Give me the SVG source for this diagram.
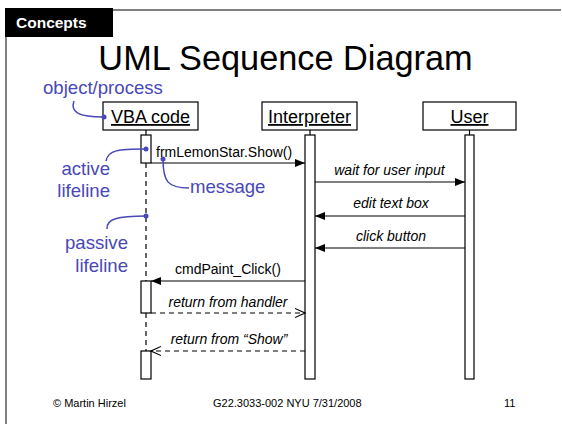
<svg xmlns="http://www.w3.org/2000/svg" width="562" height="424" viewBox="0 0 562 424">
<style>
text{font-family:"Liberation Sans",Arial,sans-serif}
.obj{fill:#fff;stroke:#000;stroke-width:1.2}
.objt{font-size:18px;text-decoration:underline;text-anchor:middle}
.act{fill:#fff;stroke:#000;stroke-width:1.2}
.life{stroke:#000;stroke-width:1.2;stroke-dasharray:5,4;fill:none}
.msg{stroke:#000;stroke-width:1.2;fill:none}
.ret{stroke:#000;stroke-width:1.2;fill:none;stroke-dasharray:5,4}
.ml{font-size:14px}
.it{font-style:italic;text-anchor:middle}
.note{fill:#4848b8;font-size:18.6px}
.nl{stroke:#4848b8;stroke-width:1.5;fill:none}
.dot{fill:#4848b8}
.foot{font-size:11px}
</style>
<defs>
<marker id="fill" markerWidth="10" markerHeight="8" refX="10" refY="4" orient="auto" markerUnits="userSpaceOnUse">
<path d="M0,0 L10,4 L0,8 z" fill="#000"/>
</marker>
<marker id="open" markerWidth="11" markerHeight="10" refX="10" refY="5" orient="auto" markerUnits="userSpaceOnUse">
<path d="M0,0.5 L10,5 L0,9.5" fill="none" stroke="#000" stroke-width="1.1"/>
</marker>
</defs>
<rect width="562" height="424" fill="#fff"/>
<g id="frame">
<path d="M113,10 H561 M6,37 V424" stroke="#555" stroke-width="1.5" fill="none"/>
<rect x="5" y="8" width="108" height="29" fill="#000"/>
<text x="16" y="28" fill="#fff" font-size="15.5" font-weight="bold">Concepts</text>
</g>
<text id="title" x="285.5" y="70" font-size="34.3" text-anchor="middle">UML Sequence Diagram</text>
<g id="vba">
<rect class="obj" x="103" y="102" width="95" height="28"/>
<text class="objt" x="150.5" y="123">VBA code</text>
<line x1="146" y1="130" x2="146" y2="135" stroke="#000" stroke-width="1.2"/>
<path class="life" d="M146,163 V281 M146,313 V351"/>
<rect class="act" x="141" y="135" width="10" height="28"/>
<rect class="act" x="141" y="281" width="10" height="32"/>
<rect class="act" x="141" y="351" width="10" height="28"/>
</g>
<g id="interpreter">
<rect class="obj" x="262" y="102" width="95" height="28"/>
<text class="objt" x="309.5" y="123">Interpreter</text>
<line x1="310" y1="130" x2="310" y2="135" stroke="#000" stroke-width="1.2"/>
<rect class="act" x="305" y="135" width="10" height="244"/>
</g>
<g id="user">
<rect class="obj" x="423" y="102" width="93" height="28"/>
<text class="objt" x="469.5" y="123">User</text>
<line x1="469.5" y1="130" x2="469.5" y2="135" stroke="#000" stroke-width="1.2"/>
<rect class="act" x="465" y="135" width="9" height="244"/>
</g>
<g id="connectors">
<line class="msg" x1="151" y1="163" x2="305" y2="163" marker-end="url(#fill)"/>
<text class="ml" x="156" y="157">frmLemonStar.Show()</text>
<line class="msg" x1="315" y1="182" x2="465" y2="182" marker-end="url(#fill)"/>
<text class="ml it" x="389.5" y="175">wait for user input</text>
<line class="msg" x1="465" y1="216" x2="315" y2="216" marker-end="url(#fill)"/>
<text class="ml it" x="391" y="208">edit text box</text>
<line class="msg" x1="465" y1="248" x2="315" y2="248" marker-end="url(#fill)"/>
<text class="ml it" x="391" y="241">click button</text>
<line class="msg" x1="305" y1="281" x2="151" y2="281" marker-end="url(#fill)"/>
<text class="ml" x="175" y="274">cmdPaint_Click()</text>
<line class="ret" x1="151" y1="313" x2="305" y2="313" marker-end="url(#open)"/>
<text class="ml it" x="228" y="307">return from handler</text>
<line class="ret" x1="305" y1="351" x2="151" y2="351" marker-end="url(#open)"/>
<text class="ml it" x="229" y="344">return from “Show”</text>
</g>
<g id="annotations">
<text class="note" x="43" y="94">object/process</text>
<path class="nl" d="M74,101 C70,112 78,117 104,117"/>
<circle class="dot" cx="104" cy="117" r="2.5"/>
<text class="note" x="110" y="175" text-anchor="end">active</text>
<text class="note" x="110" y="197" text-anchor="end">lifeline</text>
<path class="nl" d="M106,161 C108,150 118,149 146,149"/>
<circle class="dot" cx="146" cy="149" r="2.5"/>
<text class="note" x="190" y="193">message</text>
<path class="nl" d="M163,159 C163,182 168,188 189,188"/>
<circle class="dot" cx="163" cy="159" r="2.5"/>
<text class="note" x="128" y="249" text-anchor="end">passive</text>
<text class="note" x="128" y="272" text-anchor="end">lifeline</text>
<path class="nl" d="M107,229 C106,219 118,216 146,216"/>
<circle class="dot" cx="146" cy="216" r="2.5"/>
</g>
<g id="footer">
<text class="foot" x="53" y="407">© Martin Hirzel</text>
<text class="foot" x="213" y="407">G22.3033-002 NYU 7/31/2008</text>
<text class="foot" x="504" y="407">11</text>
</g>
</svg>
